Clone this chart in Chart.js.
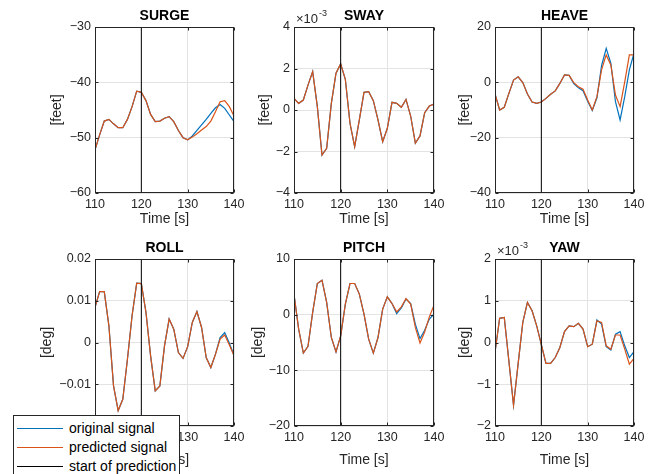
<!DOCTYPE html>
<html>
<head>
<meta charset="utf-8">
<script src="https://cdn.jsdelivr.net/npm/chart.js@4.4.1/dist/chart.umd.min.js"></script>
<style>
body{margin:0;background:#fff;width:656px;height:474px;overflow:hidden;position:relative;font-family:"Liberation Sans",Arial,sans-serif}
canvas{position:absolute}
#legend{position:absolute;left:13px;top:415px;width:167px;height:70px;background:#fff;border:1px solid #262626;font-size:14px;color:#000;box-sizing:border-box;padding-top:3px}
#legend .row{height:19px;line-height:19px;white-space:nowrap;position:relative}
#legend .swatch{position:absolute;left:3px;top:9px;width:46px;height:0;border-top:1.2px solid}
#legend .txt{position:absolute;left:55px;top:0}
</style>
</head>
<body>
<canvas id="surge"></canvas>
<canvas id="sway"></canvas>
<canvas id="heave"></canvas>
<canvas id="roll"></canvas>
<canvas id="pitch"></canvas>
<canvas id="yaw"></canvas>
<div id="legend"></div>
<script>
// time axis (seconds)
const times = [110,111,112,113,114,115,116,117,118,119,120,121,122,123,124,125,126,127,128,129,130,131,132,133,134,135,136,137,138,139,140];
const startTime = 120;

// series
const surgeOrig = [-52.2,-49.5,-47.0,-46.7,-47.5,-48.2,-48.2,-46.7,-44.4,-41.6,-41.8,-43.3,-45.8,-47.1,-47.0,-46.5,-46.2,-47.1,-48.7,-50.0,-50.4,-49.7,-48.7,-47.7,-46.7,-45.6,-44.6,-44.0,-44.7,-45.9,-47.1];
const surgePred = [-52.2,-49.5,-47.0,-46.7,-47.5,-48.2,-48.2,-46.7,-44.4,-41.6,-41.8,-43.3,-45.8,-47.1,-47.0,-46.5,-46.2,-47.1,-48.7,-50.0,-50.4,-49.9,-49.3,-48.6,-48.0,-47.0,-45.3,-43.5,-43.3,-44.4,-46.1];

const swayOrig = [0.56e-3,0.32e-3,0.48e-3,1.2e-3,1.85e-3,0.16e-3,-2.17e-3,-1.85e-3,0.32e-3,1.77e-3,2.22e-3,1.48e-3,-0.64e-3,-1.77e-3,-0.48e-3,0.85e-3,0.88e-3,0.45e-3,-0.48e-3,-1.53e-3,-0.88e-3,0.37e-3,0.32e-3,0.13e-3,0.51e-3,-0.29e-3,-1.6e-3,-1.25e-3,-0.13e-3,0.19e-3,0.29e-3];
const swayPred = [0.56e-3,0.32e-3,0.48e-3,1.2e-3,1.85e-3,0.16e-3,-2.17e-3,-1.85e-3,0.32e-3,1.77e-3,2.22e-3,1.48e-3,-0.64e-3,-1.77e-3,-0.48e-3,0.85e-3,0.88e-3,0.45e-3,-0.48e-3,-1.53e-3,-0.88e-3,0.37e-3,0.32e-3,0.13e-3,0.51e-3,-0.29e-3,-1.6e-3,-1.25e-3,-0.13e-3,0.19e-3,0.29e-3];

const heaveOrig = [-4.2,-10,-9,-4,0.8,2,-0.1,-4.2,-7.1,-7.6,-7.1,-5.8,-4.3,-3.1,-0.4,2.7,2.5,-0.5,-2.0,-3.0,-6.8,-10.2,-5.6,6.0,12.3,6.9,-7.0,-13.6,-5.2,4.5,10.5];
const heavePred = [-4.2,-10,-9,-4,0.8,2,-0.1,-4.2,-7.1,-7.6,-7.1,-5.8,-4.3,-3.1,-0.4,2.7,2.5,-0.1,-1.6,-2.5,-6.4,-10,-5.2,4.5,9.9,6.3,-4.6,-8.8,0.2,9.9,9.9];

const rollOrig = [0.0084,0.0122,0.0122,0.004,-0.0104,-0.0163,-0.0136,-0.004,0.0064,0.0142,0.0141,0.0072,-0.0032,-0.0116,-0.0104,-0.0008,0.0056,0.0032,-0.0024,-0.0038,-0.001,0.0048,0.0074,0.0036,-0.0036,-0.006,-0.0028,0.0012,0.0024,-0.0002,-0.003];
const rollPred = [0.0084,0.0122,0.0122,0.004,-0.0104,-0.0163,-0.0136,-0.004,0.0064,0.0142,0.0141,0.0072,-0.0032,-0.0116,-0.0104,-0.0008,0.0056,0.0032,-0.0024,-0.0038,-0.001,0.0048,0.0074,0.0036,-0.0036,-0.006,-0.0028,0.0008,0.0018,-0.0006,-0.0032];

const pitchOrig = [3.65,-2.6,-6.9,-5.7,0.4,5.6,6.2,2.2,-4.1,-6.7,-3.8,1.9,5.6,5.6,3.7,0.1,-4.4,-6.9,-4.1,1.0,3.2,2.0,0.2,1.2,2.8,2.0,-1.7,-4.3,-2.8,-0.8,0.1];
const pitchPred = [3.65,-2.6,-6.9,-5.7,0.4,5.6,6.2,2.2,-4.1,-6.7,-3.8,1.9,5.6,5.6,3.7,0.1,-4.4,-6.9,-4.1,1.0,3.2,2.0,0.5,1.4,2.9,1.9,-2.3,-5.1,-3.1,-0.4,1.7];

const yawOrig = [-0.24e-3,0.58e-3,0.6e-3,-0.45e-3,-1.5e-3,-0.5e-3,0.48e-3,0.96e-3,0.76e-3,0.4e-3,-0.05e-3,-0.5e-3,-0.5e-3,-0.36e-3,-0.12e-3,0.26e-3,0.4e-3,0.38e-3,0.46e-3,0.32e-3,-0.1e-3,-0.04e-3,0.54e-3,0.44e-3,-0.1e-3,-0.18e-3,0.2e-3,0.26e-3,-0.08e-3,-0.36e-3,-0.22e-3];
const yawPred = [-0.24e-3,0.58e-3,0.6e-3,-0.45e-3,-1.5e-3,-0.5e-3,0.48e-3,0.96e-3,0.76e-3,0.4e-3,-0.05e-3,-0.5e-3,-0.5e-3,-0.36e-3,-0.12e-3,0.26e-3,0.4e-3,0.38e-3,0.46e-3,0.32e-3,-0.1e-3,-0.04e-3,0.52e-3,0.48e-3,-0.08e-3,-0.16e-3,0.18e-3,0.18e-3,-0.16e-3,-0.52e-3,-0.38e-3];

const seriesNames = ['original signal','predicted signal','start of prediction'];
const BLUE = '#0072BD', ORANGE = '#D95319';
const FONT = '"Liberation Sans", Arial, sans-serif';

const minus = s => String(s).replace('-', '\u2212');
const fmtPlain = v => minus(v);
const fmtMilli = v => minus(Math.round(v * 1000));
const fmtRoll = v => minus(+v.toFixed(2));

// panel layout: plot box [left, top, right, bottom] in page pixels
const panels = [
  {id:'surge', title:'SURGE', unit:'[feet]', box:[95,27,234,193], yMin:-60, yMax:-30, yStep:10, fmt:fmtPlain, orig:surgeOrig, pred:surgePred, labelX:57, row:0},
  {id:'sway', title:'SWAY', unit:'[feet]', box:[294,27,434,193], yMin:-0.004, yMax:0.004, yStep:0.002, fmt:fmtMilli, orig:swayOrig, pred:swayPred, labelX:265, row:0, exp:true},
  {id:'heave', title:'HEAVE', unit:'[feet]', box:[495,27,634,193], yMin:-40, yMax:20, yStep:20, fmt:fmtPlain, orig:heaveOrig, pred:heavePred, labelX:465, row:0},
  {id:'roll', title:'ROLL', unit:'[deg]', box:[95,259,234,426], yMin:-0.02, yMax:0.02, yStep:0.01, fmt:fmtRoll, orig:rollOrig, pred:rollPred, labelX:47, row:1},
  {id:'pitch', title:'PITCH', unit:'[deg]', box:[294,259,434,426], yMin:-20, yMax:10, yStep:10, fmt:fmtPlain, orig:pitchOrig, pred:pitchPred, labelX:258, row:1},
  {id:'yaw', title:'YAW', unit:'[deg]', box:[495,259,634,426], yMin:-0.002, yMax:0.002, yStep:0.001, fmt:fmtMilli, orig:yawOrig, pred:yawPred, labelX:465, row:1, exp:true}
];

const W = 60, TOP = 30, H = 44, RP = 16;
const xTitleGap = [26, 34];

// box, inward ticks, title and exponent like matlab axes
const axesBox = {
  id: 'axesBox',
  afterDraw(chart, args, opts) {
    const {ctx, chartArea: a, scales: {x, y}} = chart;
    ctx.save();
    ctx.strokeStyle = '#262626';
    ctx.lineWidth = 1;
    const l = Math.round(a.left) + 0.5, t = Math.round(a.top) + 0.5;
    const r = Math.round(a.right) - 0.5, b = Math.round(a.bottom) - 0.5;
    ctx.strokeRect(l, t, r - l, b - t);
    ctx.beginPath();
    x.ticks.forEach(tk => {
      const px = Math.round(x.getPixelForValue(tk.value)) + 0.5;
      ctx.moveTo(px, b); ctx.lineTo(px, b - 3);
      ctx.moveTo(px, t); ctx.lineTo(px, t + 3);
    });
    y.ticks.forEach(tk => {
      const py = Math.round(y.getPixelForValue(tk.value)) + 0.5;
      ctx.moveTo(l, py); ctx.lineTo(l + 3, py);
      ctx.moveTo(r, py); ctx.lineTo(r - 3, py);
    });
    ctx.stroke();

    ctx.fillStyle = '#000';
    ctx.font = 'bold 14px ' + FONT;
    ctx.textAlign = 'center';
    ctx.textBaseline = 'middle';
    ctx.fillText(opts.title, (a.left + a.right) / 2, a.top - 11);

    if (opts.exp) {
      ctx.fillStyle = '#262626';
      ctx.textAlign = 'left';
      ctx.textBaseline = 'alphabetic';
      ctx.font = '13px ' + FONT;
      const base = '\u00d710';
      ctx.fillText(base, a.left + 2, a.top - 4);
      const w = ctx.measureText(base).width;
      ctx.font = '9px ' + FONT;
      ctx.fillText('-3', a.left + 2 + w + 1, a.top - 11);
    }
    ctx.restore();
  }
};

const charts = {};
panels.forEach(p => {
  const [L, T, R, B] = p.box;
  const cv = document.getElementById(p.id);
  cv.width = (R - L) + W + RP;
  cv.height = (B - T) + TOP + H;
  cv.style.left = (L - W) + 'px';
  cv.style.top = (T - TOP) + 'px';

  const pts = arr => times.map((t, i) => ({x: t, y: arr[i]}));

  charts[p.id] = new Chart(cv, {
    type: 'line',
    data: {
      datasets: [
        {label: seriesNames[0], data: pts(p.orig), borderColor: BLUE, borderWidth: 1.2, pointRadius: 0, order: 3},
        {label: seriesNames[1], data: pts(p.pred), borderColor: ORANGE, borderWidth: 1.2, pointRadius: 0, order: 2},
        {label: seriesNames[2], data: [{x: startTime, y: p.yMin}, {x: startTime, y: p.yMax}], borderColor: '#000', borderWidth: 1, pointRadius: 0, order: 1}
      ]
    },
    options: {
      responsive: false,
      animation: false,
      events: [],
      layout: {padding: {top: TOP, right: RP, left: 0, bottom: 0}},
      plugins: {
        legend: {display: false},
        tooltip: {enabled: false},
        axesBox: {title: p.title, exp: p.exp}
      },
      scales: {
        x: {
          type: 'linear', min: 110, max: 140,
          ticks: {stepSize: 10, padding: 4.5, color: '#262626', font: {family: FONT, size: 12.5}, maxRotation: 0},
          grid: {color: '#e3e3e3', drawTicks: false},
          border: {display: false},
          title: {display: true, text: 'Time [s]', color: '#262626', font: {family: FONT, size: 14},
                  padding: {top: 0, bottom: H - xTitleGap[p.row] - 8.4}},
          afterFit: s => { s.height = H; s.paddingLeft = 0; s.paddingRight = 0; }
        },
        y: {
          min: p.yMin, max: p.yMax,
          ticks: {stepSize: p.yStep, padding: 4, color: '#262626', font: {family: FONT, size: 12.5}, callback: p.fmt},
          grid: {color: '#e3e3e3', drawTicks: false},
          border: {display: false},
          title: {display: true, text: p.unit, color: '#262626', font: {family: FONT, size: 14},
                  padding: {top: p.labelX - (L - W) - 8.4, bottom: 0}},
          afterFit: s => { s.width = W; }
        }
      }
    },
    plugins: [axesBox]
  });
});

// legend box built from the roll panel's datasets, in dataset order
const legendEl = document.getElementById('legend');
Chart.defaults.plugins.legend.labels.generateLabels(charts.roll)
  .sort((a, b) => a.datasetIndex - b.datasetIndex)
  .forEach(item => {
    const row = document.createElement('div');
    row.className = 'row';
    const sw = document.createElement('span');
    sw.className = 'swatch';
    sw.style.borderTopColor = item.strokeStyle;
    const tx = document.createElement('span');
    tx.className = 'txt';
    tx.textContent = item.text;
    row.appendChild(sw);
    row.appendChild(tx);
    legendEl.appendChild(row);
  });
</script>
</body>
</html>
